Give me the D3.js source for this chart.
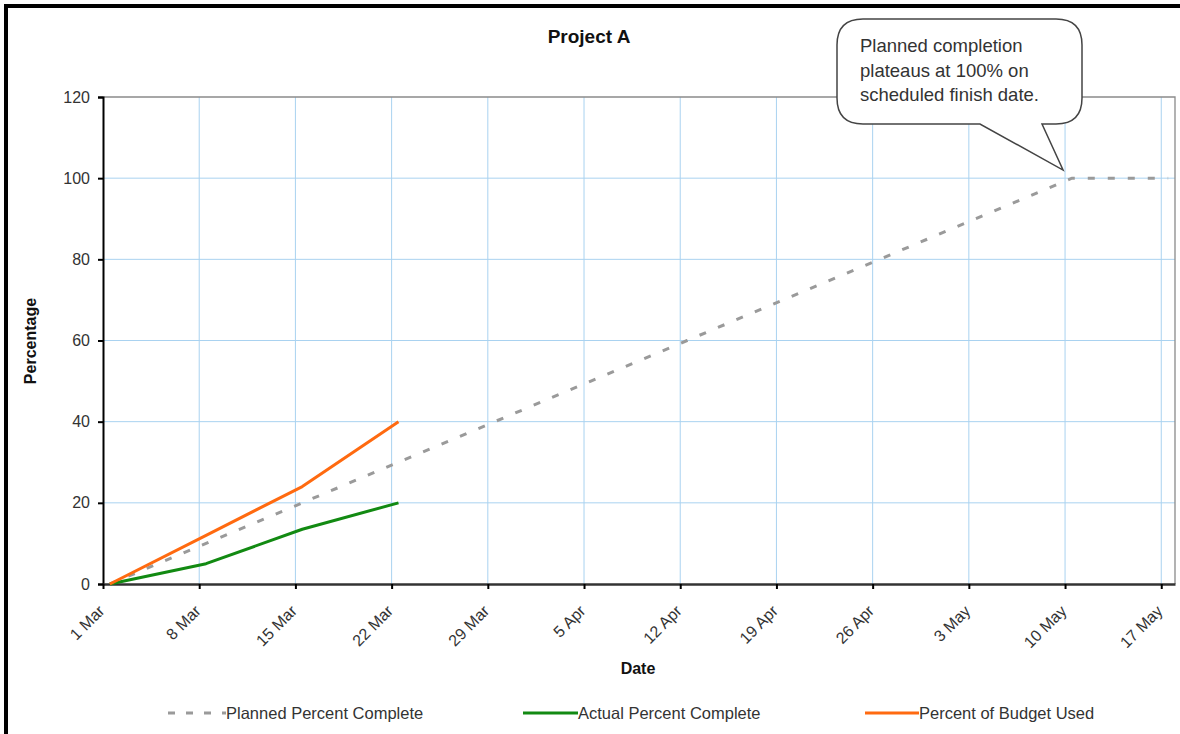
<!DOCTYPE html>
<html>
<head>
<meta charset="utf-8">
<script src="https://cdn.jsdelivr.net/npm/d3@7"></script>
<style>
  html, body { margin: 0; padding: 0; background: #fff; }
  svg { display: block; font-family: Arial, "Liberation Sans", sans-serif; }
</style>
</head>
<body>
<svg id="chart" width="1180" height="734"></svg>
<script>
// ---- data ----
const title = "Project A";
const xAxisTitle = "Date";
const yAxisTitle = "Percentage";
const tickDates = ["2007-03-01","2007-03-08","2007-03-15","2007-03-22","2007-03-29","2007-04-05",
                   "2007-04-12","2007-04-19","2007-04-26","2007-05-03","2007-05-10","2007-05-17"];
const tickLabels = ["1 Mar","8 Mar","15 Mar","22 Mar","29 Mar","5 Apr","12 Apr","19 Apr","26 Apr","3 May","10 May","17 May"];
const yTicks = [0, 20, 40, 60, 80, 100, 120];

const plannedDates = ["2007-03-01","2007-03-08","2007-03-15","2007-03-22","2007-03-29","2007-04-05",
                      "2007-04-12","2007-04-19","2007-04-26","2007-05-03","2007-05-10","2007-05-17"];
const plannedValues = [0, 10, 20, 30, 40, 50, 60, 70, 80, 90, 100, 100];

const actualDates = ["2007-03-01","2007-03-08","2007-03-15","2007-03-22"];
const actualValues = [0, 5, 13.5, 20];

const budgetDates = ["2007-03-01","2007-03-08","2007-03-15","2007-03-22"];
const budgetValues = [0, 12, 24, 40];

const seriesNames = ["Planned Percent Complete", "Actual Percent Complete", "Percent of Budget Used"];
const calloutLines = ["Planned completion", "plateaus at 100% on", "scheduled finish date."];

// ---- setup ----
const parse = d3.utcParse("%Y-%m-%d");
const svg = d3.select("#chart");
const L = 103, R = 1175, T = 97, B = 584;
const FONT = "Arial, 'Liberation Sans', sans-serif";

const x = d3.scaleUtc()
  .domain([parse("2007-03-01"), parse("2007-05-18")])
  .range([L, R]);
const y = d3.scaleLinear().domain([0, 120]).range([B, T]);
// Excel date axis: points sit in the middle of their day
const mid = d => d3.utcHour.offset(parse(d), 12);

svg.append("rect").attr("width", 1180).attr("height", 734).attr("fill", "#fff");

// gridlines
const grid = svg.append("g");
grid.selectAll("line.v").data(tickDates.slice(1)).join("line")
  .attr("x1", d => x(parse(d))).attr("x2", d => x(parse(d)))
  .attr("y1", T).attr("y2", B)
  .attr("stroke", "#a9d2f0").attr("stroke-width", 1);
grid.selectAll("line.h").data(yTicks.filter(v => v > 0 && v < 120)).join("line")
  .attr("x1", L).attr("x2", R)
  .attr("y1", d => y(d)).attr("y2", d => y(d))
  .attr("stroke", "#a9d2f0").attr("stroke-width", 1);

// plot border (top, right)
svg.append("path")
  .attr("d", `M${L},${T}H${R}V${B}`)
  .attr("fill", "none").attr("stroke", "#8a8a8a").attr("stroke-width", 1.3);

// axes
const yAxis = d3.axisLeft(y).tickValues(yTicks).tickSize(5).tickPadding(8);
const gy = svg.append("g").attr("transform", `translate(${L},0)`).call(yAxis);
gy.select(".domain").attr("stroke", "#000").attr("stroke-width", 2);
gy.selectAll(".tick line").attr("stroke", "#000").attr("stroke-width", 2);
gy.selectAll("text").attr("font-size", 16).attr("fill", "#333").attr("font-family", FONT);

const xAxis = d3.axisBottom(x).tickValues(tickDates.map(parse))
  .tickFormat((d, i) => tickLabels[i]).tickSize(5).tickSizeOuter(0);
const gx = svg.append("g").attr("transform", `translate(0,${B})`).call(xAxis);
gx.select(".domain").attr("stroke", "#333").attr("stroke-width", 2.5);
gx.selectAll(".tick line").attr("stroke", "#000").attr("stroke-width", 2);
gx.selectAll("text")
  .attr("font-size", 16).attr("fill", "#333").attr("font-family", FONT)
  .attr("text-anchor", "end")
  .attr("y", 0).attr("dy", 0)
  .attr("transform", "translate(2,28) rotate(-45)");

// lines
const line = d3.line().x(d => x(d[0])).y(d => y(d[1]));
const zip = (ds, vs) => ds.map((d, i) => [mid(d), vs[i]]);

svg.append("path").datum(zip(plannedDates, plannedValues))
  .attr("d", line).attr("fill", "none")
  .attr("stroke", "#9a9a9a").attr("stroke-width", 3)
  .attr("stroke-dasharray", "7,13");
svg.append("path").datum(zip(actualDates, actualValues))
  .attr("d", line).attr("fill", "none")
  .attr("stroke", "#128a12").attr("stroke-width", 3).attr("stroke-linejoin", "round");
svg.append("path").datum(zip(budgetDates, budgetValues))
  .attr("d", line).attr("fill", "none")
  .attr("stroke", "#ff6a10").attr("stroke-width", 3).attr("stroke-linejoin", "round");

// titles
svg.append("text").attr("x", 589).attr("y", 43).attr("text-anchor", "middle")
  .attr("font-size", 19).attr("font-weight", "bold").attr("fill", "#111").text(title);
svg.append("text").attr("x", 638).attr("y", 674).attr("text-anchor", "middle")
  .attr("font-size", 16).attr("font-weight", "bold").attr("fill", "#111").text(xAxisTitle);
svg.append("text").attr("transform", "translate(36,341) rotate(-90)").attr("text-anchor", "middle")
  .attr("font-size", 16).attr("font-weight", "bold").attr("fill", "#111").text(yAxisTitle);

// legend
const legend = [
  {x1: 168, x2: 226, color: "#9a9a9a", dash: "7,11", name: seriesNames[0]},
  {x1: 523, x2: 578, color: "#128a12", dash: null, name: seriesNames[1]},
  {x1: 865, x2: 919, color: "#ff6a10", dash: null, name: seriesNames[2]}
];
const lg = svg.append("g");
legend.forEach(l => {
  lg.append("line").attr("x1", l.x1).attr("x2", l.x2).attr("y1", 713).attr("y2", 713)
    .attr("stroke", l.color).attr("stroke-width", 3).attr("stroke-dasharray", l.dash);
  lg.append("text").attr("x", l.x2).attr("y", 719).attr("font-size", 16.5)
    .attr("fill", "#333").text(l.name);
});

// callout
const tipX = x(parse("2007-05-10")) - 2, tipY = y(102);
const cx0 = 837, cx1 = 1082, cy0 = 19, cy1 = 124, r = 26;
const callout = d3.path();
callout.moveTo(cx0 + r, cy0);
callout.lineTo(cx1 - r, cy0);
callout.quadraticCurveTo(cx1, cy0, cx1, cy0 + r);
callout.lineTo(cx1, cy1 - r);
callout.quadraticCurveTo(cx1, cy1, cx1 - r, cy1);
callout.lineTo(1042, cy1);
callout.lineTo(tipX, tipY);
callout.lineTo(980, cy1);
callout.lineTo(cx0 + r, cy1);
callout.quadraticCurveTo(cx0, cy1, cx0, cy1 - r);
callout.lineTo(cx0, cy0 + r);
callout.quadraticCurveTo(cx0, cy0, cx0 + r, cy0);
callout.closePath();
svg.append("path").attr("d", callout.toString())
  .attr("fill", "#fff").attr("stroke", "#444").attr("stroke-width", 1.5);
svg.append("g").selectAll("text").data(calloutLines).join("text")
  .attr("x", 860).attr("y", (d, i) => 52 + i * 24.5)
  .attr("font-size", 18.5).attr("fill", "#333").text(d => d);

// outer frame (left and top edges visible)
svg.append("rect").attr("x", 4).attr("y", 4).attr("width", 4).attr("height", 730).attr("fill", "#000");
svg.append("rect").attr("x", 4).attr("y", 4).attr("width", 1176).attr("height", 4).attr("fill", "#000");
</script>
</body>
</html>
